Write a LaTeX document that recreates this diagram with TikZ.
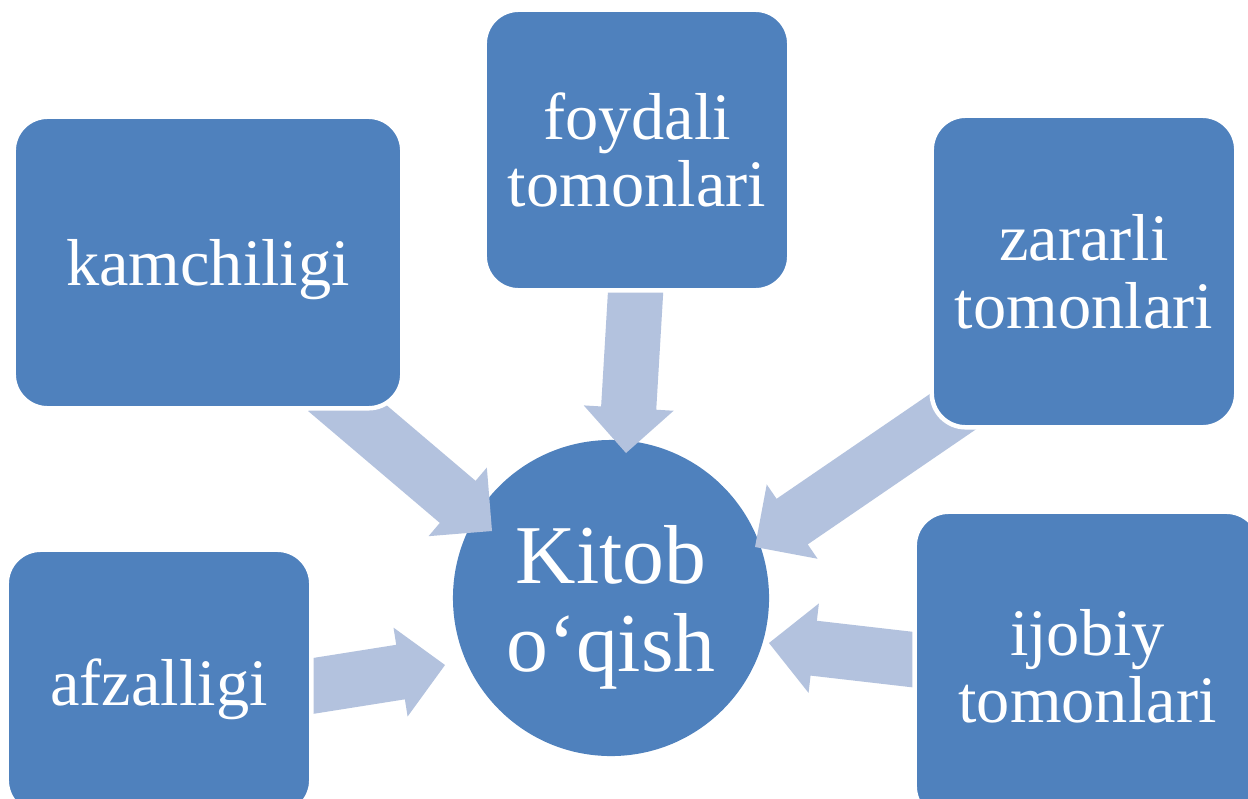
\documentclass[tikz,border=0pt]{standalone}
\usepackage{fontspec}
\setmainfont{Liberation Serif}
\usetikzlibrary{calc}
\definecolor{boxblue}{HTML}{4F81BD}
\definecolor{arrowblue}{HTML}{B3C2DE}
\newcommand\blockarrow[2]{%
  \path ($(#2)!1.125cm!(#1)$) coordinate (hb);
  \fill[arrowblue]
    ($(#1)!0.69cm!90:(#2)$) -- ($(hb)!0.69cm!90:(#2)$) -- ($(hb)!1.125cm!90:(#2)$) -- (#2)
    -- ($(hb)!1.125cm!-90:(#2)$) -- ($(hb)!0.69cm!-90:(#2)$) -- ($(#1)!0.69cm!-90:(#2)$) -- cycle;
}
\begin{document}
\begin{tikzpicture}[x=0.025cm,y=-0.025cm,
  box/.style={draw=white, line width=3.2pt, fill=boxblue, rounded corners=0.85cm,
    text=white, align=center, inner sep=0pt, text depth=0pt,
    font=\fontsize{47.2}{47.8}\selectfont},
  hub/.style={circle, fill=boxblue, text=white, align=center, inner sep=0pt,
    minimum size=7.9cm, text depth=0pt, font=\fontsize{59.5}{62.6}\selectfont}]
\useasboundingbox (0,0) rectangle (1248,798);
\clip (0,0) rectangle (1248,798);
\fill[white] (0,0) rectangle (1248,798);

\node[hub] (hub) at (611,598) {Kitob\\o‘qish};

\coordinate (t1) at (326,390); \coordinate (p1) at (492,531);
\coordinate (t2) at (636,285); \coordinate (p2) at (626,453);
\coordinate (t3) at (986,389); \coordinate (p3) at (755,547);
\coordinate (t4) at (300,688); \coordinate (p4) at (445,665);
\coordinate (t5) at (925,661); \coordinate (p5) at (769,643);

\blockarrow{t1}{p1}
\blockarrow{t2}{p2}
\blockarrow{t3}{p3}
\blockarrow{t4}{p4}
\blockarrow{t5}{p5}

\node[box, minimum width=9.7125cm, minimum height=7.2875cm] (kam) at (208,262.5) {kamchiligi};
\node[box, minimum width=7.6125cm, minimum height=7.0125cm] (foy) at (637,150) {foydali\\tomonlari};
\node[box, minimum width=7.6125cm, minimum height=7.7875cm] (zar) at (1084,271.5) {zararli\\tomonlari};
\node[box, minimum width=7.6125cm, minimum height=6.6125cm] (afz) at (159,682) {afzalligi};
\node[box, minimum width=8.6375cm, minimum height=7.7125cm] (ijo) at (1087.5,666) {ijobiy\\tomonlari};
\end{tikzpicture}
\end{document}
